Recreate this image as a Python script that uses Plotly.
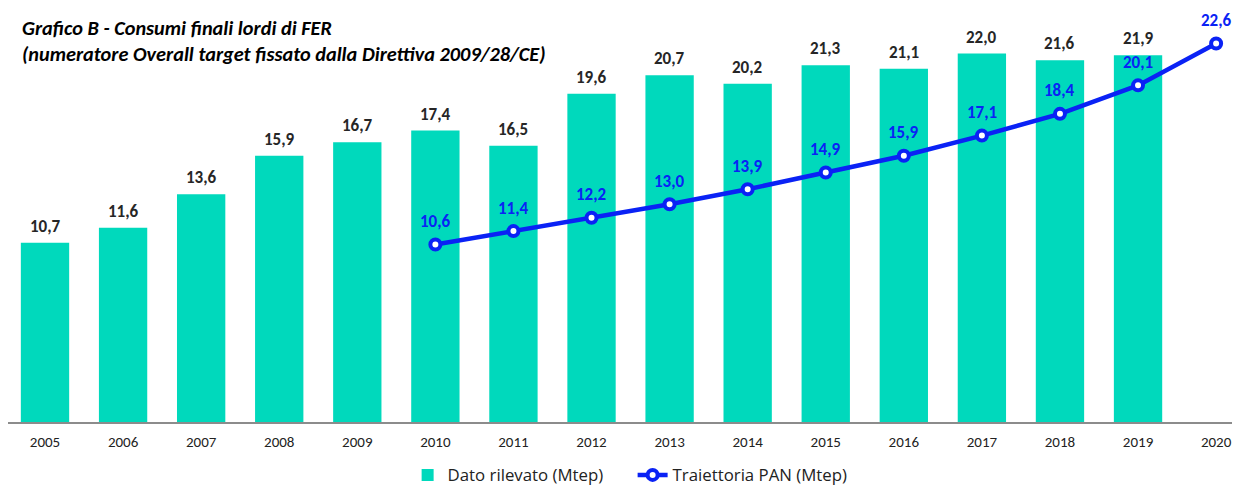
import plotly.graph_objects as go

years = [2005, 2006, 2007, 2008, 2009, 2010, 2011, 2012,
         2013, 2014, 2015, 2016, 2017, 2018, 2019, 2020]
dato_rilevato = [10.7, 11.6, 13.6, 15.9, 16.7, 17.4, 16.5, 19.6,
                 20.7, 20.2, 21.3, 21.1, 22.0, 21.6, 21.9]
traiettoria_years = [2010, 2011, 2012, 2013, 2014, 2015,
                     2016, 2017, 2018, 2019, 2020]
traiettoria_pan = [10.6, 11.4, 12.2, 13.0, 13.9, 14.9, 15.9, 17.1, 18.4, 20.1, 22.6]

FONT = "Carlito, Calibri, Lato, sans-serif"
LEGEND_FONT = "Open Sans, Lato, sans-serif"
BAR_COLOR = "#00D9BC"
LINE_COLOR = "#0A22F5"
TEXT_DARK = "#262626"

def fmt(v):
    return f"{v:.1f}".replace(".", ",")

fig = go.Figure()
fig.add_trace(go.Bar(
    x=years[:len(dato_rilevato)], y=dato_rilevato, name="Dato rilevato (Mtep)",
    marker=dict(color=BAR_COLOR, line=dict(width=0)),
))
fig.add_trace(go.Scatter(
    x=traiettoria_years, y=traiettoria_pan, name="Traiettoria PAN (Mtep)",
    mode="lines+markers",
    line=dict(color=LINE_COLOR, width=4.5),
    marker=dict(size=10, color="white", line=dict(color=LINE_COLOR, width=4)),
))

annotations = []
for yr, v in zip(years, dato_rilevato):
    annotations.append(dict(x=yr, y=v, xref="x", yref="y", text=f"<b>{fmt(v)}</b>",
                            showarrow=False, yanchor="middle", yshift=16.5,
                            font=dict(family=FONT, size=17, color=TEXT_DARK)))
for yr, v in zip(traiettoria_years, traiettoria_pan):
    annotations.append(dict(x=yr, y=v, xref="x", yref="y", text=f"<b>{fmt(v)}</b>",
                            showarrow=False, yanchor="middle", yshift=23,
                            font=dict(family=FONT, size=17, color=LINE_COLOR)))
annotations.append(dict(x=12/1232, y=1 - 33/414, xref="paper", yref="paper", showarrow=False,
                        xanchor="left", yanchor="middle", align="left",
                        text="<b><i>Grafico B - Consumi finali lordi di FER<br>(numeratore Overall target fissato dalla Direttiva 2009/28/CE)</i></b>",
                        font=dict(family=FONT, size=20.3, color="#000000")))

fig.update_layout(
    width=1232, height=480,
    margin=dict(l=0, r=0, t=0, b=66, autoexpand=False),
    paper_bgcolor="white", plot_bgcolor="white",
    bargap=0.381,
    font=dict(family=FONT, size=14, color=TEXT_DARK),
    showlegend=True,
    legend=dict(orientation="h", x=0.507, xanchor="center", y=-0.128, yanchor="middle",
                font=dict(family=LEGEND_FONT, size=16.8, color="#222222"),
                entrywidth=180, traceorder="normal"),
    annotations=annotations,
)
fig.update_xaxes(range=[2004.526, 2020.306], showgrid=False, zeroline=False,
                 tickmode="array", tickvals=years, ticktext=[str(y) for y in years],
                 showline=True, linecolor="#8c8c8c", linewidth=1.5,
                 ticks="", ticklabelstandoff=5,
                 tickfont=dict(family=FONT, size=15, color="#222222"))
fig.update_yaxes(range=[0, 24.72], showticklabels=False, showgrid=False, zeroline=False,
                 showline=False, ticks="")

fig.write_html("out.html")
